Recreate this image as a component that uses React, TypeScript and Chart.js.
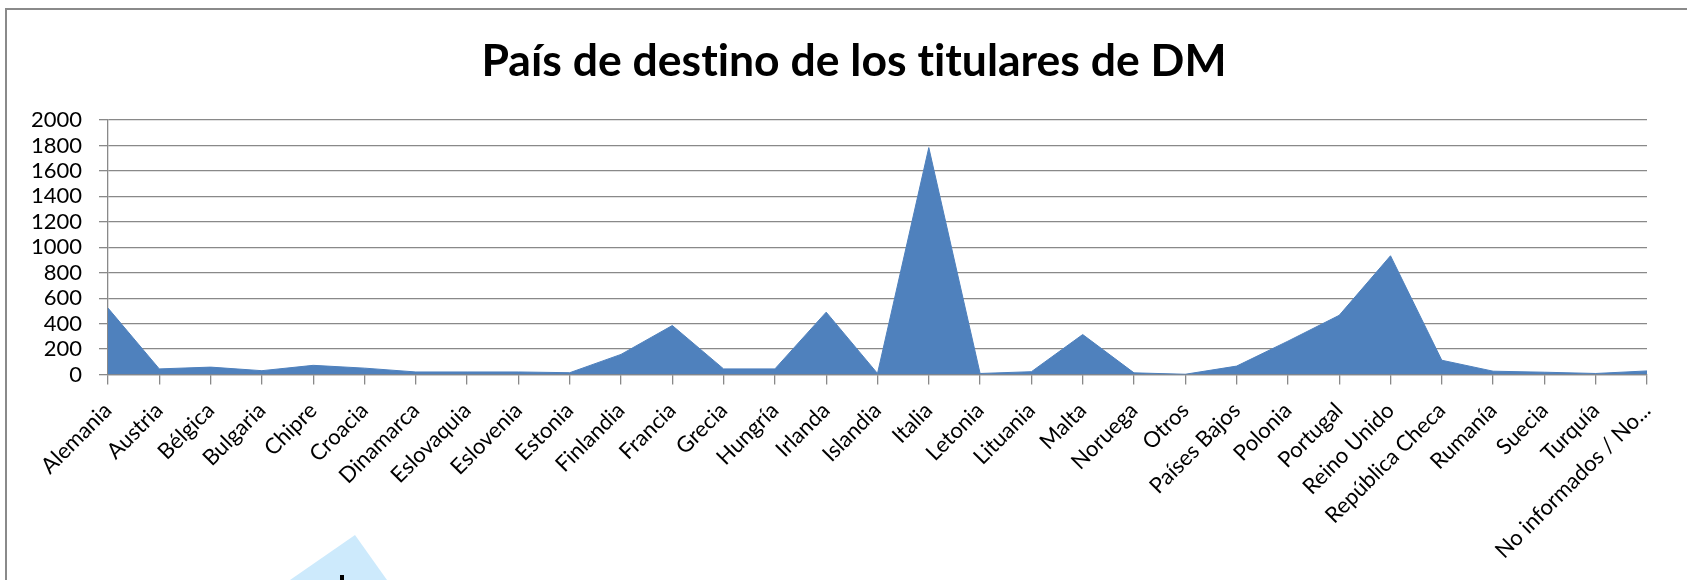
import React, { useEffect, useRef } from "react";
import { Chart, registerables } from "chart.js";

Chart.register(...registerables);

const TITLE = "País de destino de los titulares de DM";

const categories = [
  "Alemania", "Austria", "Bélgica", "Bulgaria", "Chipre", "Croacia", "Dinamarca",
  "Eslovaquia", "Eslovenia", "Estonia", "Finlandia", "Francia", "Grecia", "Hungría",
  "Irlanda", "Islandia", "Italia", "Letonia", "Lituania", "Malta", "Noruega", "Otros",
  "Países Bajos", "Polonia", "Portugal", "Reino Unido", "República Checa", "Rumanía",
  "Suecia", "Turquía", "No informados / No...",
];

const titulares = [
  522, 44, 58, 30, 72, 50, 20, 20, 20, 14, 158, 385, 44, 44, 490, 8, 1783, 8, 22,
  314, 13, 2, 66, 262, 465, 933, 112, 26, 18, 8, 28,
];

const yMin = 0;
const yMax = 2000;
const yStep = 200;

const GRID = "#898989";
const BLUE = "#4f81bd";
const FONT = "Lato, 'Open Sans', sans-serif";

const titlePlugin = {
  id: "manualTitle",
  afterDraw(chart: any) {
    const ctx = chart.ctx;
    ctx.save();
    ctx.font = `bold 44.5px ${FONT}`;
    try {
      (ctx as any).letterSpacing = "0.01px";
    } catch (e) {}
    ctx.fillStyle = "#000";
    ctx.textAlign = "center";
    ctx.textBaseline = "alphabetic";
    ctx.fillText(TITLE, 854, 76);
    ctx.restore();
  },
};

export default function App() {
  const ref = useRef<HTMLCanvasElement | null>(null);

  useEffect(() => {
    const canvas = ref.current;
    if (!canvas) return;
    const chart = new Chart(canvas, {
      type: "line",
      data: {
        labels: categories,
        datasets: [
          {
            label: "Titulares",
            data: titulares,
            fill: "origin",
            backgroundColor: BLUE,
            borderColor: BLUE,
            borderWidth: 1,
            pointRadius: 0,
            tension: 0,
          },
        ],
      },
      plugins: [titlePlugin],
      options: {
        responsive: false,
        animation: false,
        layout: { padding: { left: 0, right: 40, top: 120, bottom: 0 } },
        plugins: {
          legend: { display: false },
          tooltip: { enabled: false },
          title: { display: false },
        },
        scales: {
          x: {
            grid: {
              drawOnChartArea: false,
              drawTicks: true,
              tickLength: 10,
              color: GRID,
              lineWidth: 1.3,
            },
            border: { display: true, color: GRID, width: 1.3 },
            ticks: {
              autoSkip: false,
              maxRotation: 45,
              minRotation: 45,
              color: "#000",
              padding: 13,
              font: { family: FONT, size: 22 },
            },
            afterFit: (s: any) => {
              s.height = 205.5;
            },
          },
          y: {
            min: yMin,
            max: yMax,
            ticks: {
              stepSize: yStep,
              autoSkip: false,
              color: "#000",
              padding: 17,
              font: { family: FONT, size: 22 },
              callback: (v: any) => String(v),
            },
            grid: {
              color: GRID,
              lineWidth: 1.3,
              drawTicks: true,
              tickLength: 9,
            },
            border: { display: true, color: GRID, width: 1.3 },
            afterFit: (s: any) => {
              s.width = 108;
            },
          },
        },
      },
    });
    return () => chart.destroy();
  }, []);

  return (
    <div
      style={{
        position: "fixed",
        left: 0,
        top: 0,
        width: 1687,
        height: 580,
        overflow: "hidden",
        background: "#ffffff",
      }}
    >
      <div
        style={{
          position: "absolute",
          left: 5,
          top: 8,
          width: 1800,
          height: 700,
          borderLeft: "2px solid #8a8a8a",
          borderTop: "2px solid #8a8a8a",
          background: "#ffffff",
        }}
      />
      <div
        style={{
          position: "absolute",
          left: 290,
          top: 535,
          width: 97,
          height: 45,
          background: "#cdeafc",
          clipPath: "polygon(0 100%, 65px 0, 100% 100%)",
        }}
      />
      <div
        style={{
          position: "absolute",
          left: 340,
          top: 575,
          width: 4,
          height: 5,
          background: "#000",
        }}
      />
      <canvas
        ref={ref}
        width={1687}
        height={580}
        style={{ position: "absolute", left: 0, top: 0 }}
      />
    </div>
  );
}
